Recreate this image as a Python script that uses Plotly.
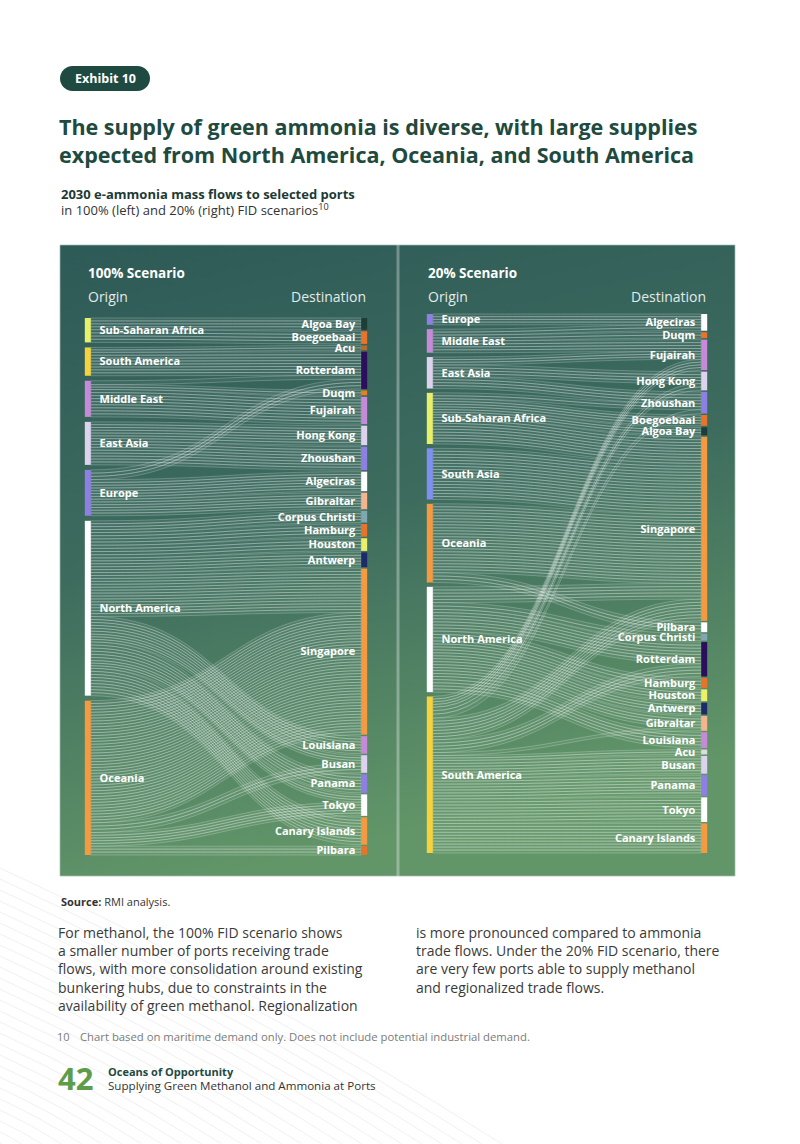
import base64
import plotly.graph_objects as go

W, H = 800, 1144
FONT = "Open Sans"

# ---------------- data: 100% FID scenario ----------------
origins_100 = ["Sub-Saharan Africa", "South America", "Middle East", "East Asia",
               "Europe", "North America", "Oceania"]
dests_100 = ["Algoa Bay", "Boegoebaai", "Acu", "Rotterdam", "Duqm", "Fujairah",
             "Hong Kong", "Zhoushan", "Algeciras", "Gibraltar", "Corpus Christi",
             "Hamburg", "Houston", "Antwerp", "Singapore", "Louisiana", "Busan",
             "Panama", "Tokyo", "Canary Islands", "Pilbara"]
flow_src_100 = ["Sub-Saharan Africa", "Sub-Saharan Africa",
                "South America", "South America",
                "Middle East", "Middle East", "Middle East",
                "East Asia", "East Asia",
                "Europe", "Europe", "Europe",
                "North America", "North America", "North America", "North America",
                "North America", "North America", "North America", "North America",
                "North America", "North America",
                "Oceania", "Oceania", "Oceania", "Oceania"]
flow_dst_100 = ["Algoa Bay", "Boegoebaai",
                "Acu", "Rotterdam",
                "Duqm", "Fujairah", "Rotterdam",
                "Hong Kong", "Zhoushan",
                "Rotterdam", "Algeciras", "Gibraltar",
                "Corpus Christi", "Hamburg", "Houston", "Antwerp",
                "Singapore", "Louisiana", "Busan", "Panama",
                "Tokyo", "Canary Islands",
                "Singapore", "Busan", "Tokyo", "Pilbara"]
flow_val_100 = [12, 13,
                5, 24,
                5, 28, 4,
                20, 24,
                10, 20, 17,
                12, 13, 13, 15,
                45, 18, 8, 19,
                8, 28,
                125, 10, 14, 9]

# ---------------- data: 20% FID scenario ----------------
origins_20 = ["Europe", "Middle East", "East Asia", "Sub-Saharan Africa",
              "South Asia", "Oceania", "North America", "South America"]
dests_20 = ["Algeciras", "Duqm", "Fujairah", "Hong Kong", "Zhoushan", "Boegoebaai",
            "Algoa Bay", "Singapore", "Pilbara", "Corpus Christi", "Rotterdam",
            "Hamburg", "Houston", "Antwerp", "Gibraltar", "Louisiana", "Acu",
            "Busan", "Panama", "Tokyo", "Canary Islands"]
flow_src_20 = ["Europe",
               "Middle East", "Middle East", "Middle East",
               "East Asia", "East Asia", "East Asia",
               "Sub-Saharan Africa", "Sub-Saharan Africa", "Sub-Saharan Africa", "Sub-Saharan Africa",
               "South Asia",
               "Oceania", "Oceania",
               "North America", "North America", "North America", "North America",
               "North America", "North America", "North America", "North America",
               "South America", "South America", "South America", "South America",
               "South America", "South America", "South America", "South America",
               "South America", "South America", "South America"]
flow_dst_20 = ["Algeciras",
               "Algeciras", "Duqm", "Fujairah",
               "Fujairah", "Hong Kong", "Zhoushan",
               "Zhoushan", "Boegoebaai", "Algoa Bay", "Singapore",
               "Singapore",
               "Singapore", "Pilbara",
               "Corpus Christi", "Rotterdam", "Hamburg", "Houston",
               "Antwerp", "Gibraltar", "Louisiana", "Singapore",
               "Fujairah", "Hong Kong", "Zhoushan", "Singapore",
               "Rotterdam", "Gibraltar", "Acu", "Busan",
               "Panama", "Tokyo", "Canary Islands"]
flow_val_20 = [11,
               6, 6, 12,
               8, 12, 12,
               6, 11, 8, 27,
               52,
               70, 10,
               7, 22, 10, 12,
               12, 12, 16, 16,
               11, 7, 4, 22,
               13, 3, 5, 18,
               21, 25, 30]

# ---------------- node colours ----------------
YLIME, YEL, LAV, LLAV, PURP = "#e8ef6a", "#f6d33e", "#c68ad9", "#ddd3ee", "#8e7fe3"
ORG, DORG, WHITE = "#f59a40", "#e8732a", "#ffffff"
color_map_100 = {
    "Sub-Saharan Africa": YLIME, "South America": YEL, "Middle East": LAV,
    "East Asia": LLAV, "Europe": PURP, "North America": WHITE, "Oceania": ORG,
    "Algoa Bay": "#1d3d38", "Boegoebaai": DORG, "Acu": "#b86a2c", "Rotterdam": "#2b0f5c",
    "Duqm": "#e8801f", "Fujairah": LAV, "Hong Kong": LLAV, "Zhoushan": PURP,
    "Algeciras": WHITE, "Gibraltar": "#f4b58e", "Corpus Christi": "#80a7b2",
    "Hamburg": DORG, "Houston": YLIME, "Antwerp": "#1f2a6b", "Singapore": ORG,
    "Louisiana": LAV, "Busan": LLAV, "Panama": PURP, "Tokyo": WHITE,
    "Canary Islands": ORG, "Pilbara": DORG,
}
color_map_20 = dict(color_map_100)
color_map_20.update({
    "Europe": PURP, "Sub-Saharan Africa": YLIME, "South Asia": "#7f90f2",
    "Duqm": DORG, "Pilbara": WHITE, "Acu": "#dcdcdc", "Houston": "#eef06a",
})


def px(x):
    return x / W


def py(y):
    return 1 - y / H


NB = "\u00a0"


def build_sankey(origins, dests, fsrc, fdst, fval, cmap, x0, x1, y0, y1, pad=1.5):
    names = origins + dests
    idx = {n: i for i, n in enumerate(names)}
    tot = {n: 0.0 for n in names}
    for s, d, v in zip(fsrc, fdst, fval):
        tot[s] += v
        tot[d] += v
    hpx = y1 - y0
    ky = min((hpx - (len(col) - 1) * pad) / sum(tot[n] for n in col)
             for col in (origins, dests))
    nx, ny = [0.0] * len(names), [0.0] * len(names)
    for col, xf in ((origins, 0.01), (dests, 0.99)):
        hs = [tot[n] * ky for n in col]
        gap = (hpx - sum(hs)) / (len(col) - 1)
        cur = 0.0
        for n, h in zip(col, hs):
            nx[idx[n]] = xf
            ny[idx[n]] = (cur + h / 2) / hpx
            cur += h + gap
    labels = [NB * 2 + n for n in origins] + [n + NB for n in dests]
    # split every flow into thin strands to mimic the hatched line bundles
    ls, lt, lv = [], [], []
    for s, d, v in zip(fsrc, fdst, fval):
        k = max(1, round(v / 3.0))
        for _ in range(k):
            ls.append(idx[s])
            lt.append(idx[d])
            lv.append(v / k)
    try:
        tf = go.sankey.Textfont(color="white", size=11, family=FONT, weight=700, shadow="none")
    except Exception:
        tf = dict(color="white", size=11, family=FONT)
    return go.Sankey(
        arrangement="fixed",
        domain=dict(x=[px(x0), px(x1)], y=[py(y1), py(y0)]),
        textfont=tf,
        node=dict(label=labels, x=nx, y=ny, pad=pad, thickness=6,
                  color=[cmap[n] for n in names],
                  line=dict(width=0), hoverinfo="none"),
        link=dict(source=ls, target=lt, value=lv,
                  color="rgba(255,255,255,0.05)",
                  line=dict(color="rgba(255,255,255,0.45)", width=0.5),
                  hoverinfo="none"),
    )


fig = go.Figure()
fig.add_trace(build_sankey(origins_100, dests_100, flow_src_100, flow_dst_100, flow_val_100,
                           color_map_100, 85, 367, 318, 855))
fig.add_trace(build_sankey(origins_20, dests_20, flow_src_20, flow_dst_20, flow_val_20,
                           color_map_20, 427, 707, 314, 853))

# ---------------- background gradient panel ----------------
svg = ('<svg xmlns="http://www.w3.org/2000/svg" width="675" height="631" viewBox="0 0 675 631" '
       'preserveAspectRatio="none"><defs><linearGradient id="g" x1="0" y1="0" x2="0.25" y2="1">'
       '<stop offset="0" stop-color="#2e5a57"/><stop offset="0.5" stop-color="#3d6c5e"/>'
       '<stop offset="1" stop-color="#629668"/></linearGradient></defs>'
       '<rect width="675" height="631" fill="url(#g)"/></svg>')
src = "data:image/svg+xml;base64," + base64.b64encode(svg.encode()).decode()
images = [dict(source=src, xref="paper", yref="paper", x=px(60), y=py(245),
               sizex=675 / W, sizey=631 / H, xanchor="left", yanchor="top",
               sizing="stretch", layer="below")]

shapes = []
# faint decorative lines in lower-left of page
for i in range(26):
    ys = 868 + i * 11
    xe = (H - ys) / 0.55
    shapes.append(dict(type="path", xref="paper", yref="paper", layer="below",
                       path=f"M {px(0)},{py(ys)} Q {px(xe*0.5)},{py(ys + (H-ys)*0.42)} {px(xe)},{py(H)}",
                       line=dict(color="#f0f0f0", width=1)))
# panel border and divider
shapes.append(dict(type="rect", xref="paper", yref="paper", x0=px(60), x1=px(735),
                   y0=py(876), y1=py(245), line=dict(color="rgba(160,190,180,0.7)", width=1),
                   layer="below"))
shapes.append(dict(type="line", xref="paper", yref="paper", x0=px(398), x1=px(398),
                   y0=py(876), y1=py(245), line=dict(color="rgba(255,255,255,0.32)", width=3),
                   layer="below"))
# Exhibit pill
r = 12.5
wpill = 90
pill = (f"M {r},0 L {wpill-r},0 C {wpill-r+6.9},0 {wpill},5.6 {wpill},{r} "
        f"C {wpill},19.4 {wpill-r+6.9},25 {wpill-r},25 L {r},25 "
        f"C 5.6,25 0,19.4 0,{r} C 0,5.6 5.6,0 {r},0 Z")
shapes.append(dict(type="path", xref="paper", yref="paper", xsizemode="pixel", ysizemode="pixel",
                   xanchor=px(60), yanchor=py(91), path=pill, fillcolor="#1f4a42",
                   line=dict(width=0)))

DARK = "#1e4a40"
ann = []


def A(x, y, text, size, color, weight=400, xa="left", ya="middle", align="left"):
    ann.append(dict(x=px(x), y=py(y), xref="paper", yref="paper", text=text, showarrow=False,
                    xanchor=xa, yanchor=ya, align=align,
                    font=dict(family=FONT, size=size, color=color, weight=weight)))


A(105, 78.5, "Exhibit 10", 12.5, "white", 700, xa="center")
A(57, 110, "The supply of green ammonia is diverse, with large supplies<br>"
           "expected from North America, Oceania, and South America", 21.5, DARK, 700, ya="top")
A(59, 194, "2030 e-ammonia mass flows to selected ports", 13, "#1d3a34", 700)
A(59, 209, "in 100% (left) and 20% (right) FID scenarios<sup>10</sup>", 13, "#333333")

A(86, 273, "100% Scenario", 13.5, "white", 700)
A(86, 297, "Origin", 14, "#e3ebe8")
A(368, 297, "Destination", 14, "#e3ebe8", xa="right")
A(426, 273, "20% Scenario", 13.5, "white", 700)
A(426, 297, "Origin", 14, "#e3ebe8")
A(708, 297, "Destination", 14, "#e3ebe8", xa="right")

A(59, 901, "<b>Source:</b> RMI analysis.", 11, "#333333")
A(56, 921, "For methanol, the 100% FID scenario shows<br>a smaller number of ports receiving trade<br>"
           "flows, with more consolidation around existing<br>bunkering hubs, due to constraints in the<br>"
           "availability of green methanol. Regionalization", 14, "#3a3a3a", ya="top")
A(414, 921, "is more pronounced compared to ammonia<br>trade flows. Under the 20% FID scenario, there<br>"
            "are very few ports able to supply methanol<br>and regionalized trade flows.", 14, "#3a3a3a",
  ya="top")
A(55, 1036, "10", 11, "#7a7a7a")
A(78, 1036, "Chart based on maritime demand only. Does not include potential industrial demand.", 11.3,
  "#7a7a7a")
A(56, 1078, "42", 31, "#5d9c4b", 700)
A(106, 1071, "Oceans of Opportunity", 11, DARK, 700)
A(106, 1085, "Supplying Green Methanol and Ammonia at Ports", 11.6, "#333333")

fig.update_layout(width=W, height=H, margin=dict(l=0, r=0, t=0, b=0),
                  paper_bgcolor="white", plot_bgcolor="white",
                  images=images, shapes=shapes, annotations=ann, showlegend=False,
                  font=dict(family=FONT))
fig.write_html("out.html", config={"displayModeBar": False},
               post_script="document.body.style.margin='0px';")
